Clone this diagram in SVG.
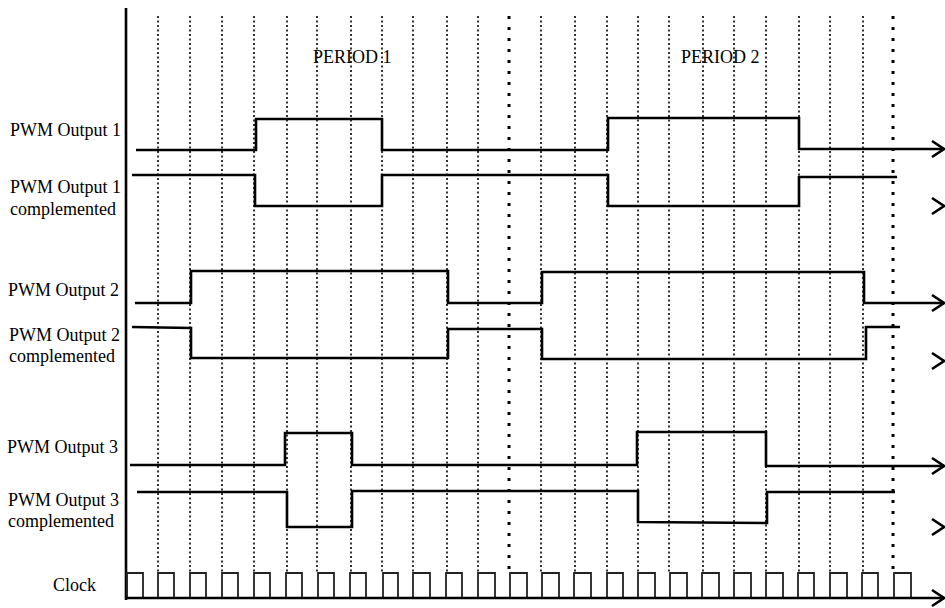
<svg xmlns="http://www.w3.org/2000/svg" width="945" height="608" viewBox="0 0 945 608">
<style>
text{font-family:"Liberation Serif","Times New Roman",serif;font-size:18px;fill:#000}
.grid{stroke:#000;stroke-width:1.6;stroke-dasharray:2 2.5;fill:none}
.gridb{stroke:#000;stroke-width:3;stroke-dasharray:3 8;fill:none}
.sig{stroke:#000;stroke-width:2.6;fill:none;stroke-linejoin:miter}
.chev{stroke:#000;stroke-width:2.6;fill:none}
.clk{stroke:#222;stroke-width:1.8;fill:none}
</style>
<rect width="945" height="608" fill="#fff"/>
<g id="grid">
<path class="grid" d="M158,16V572M190,16V572M222,16V572M254,16V572M287,16V572M317,16V572M351,16V572M382,16V572M413,16V572M447,16V572M478,16V572M541,16V572M575,16V572M607,16V572M638,16V572M669,16V572M703,16V572M734,16V572M766,16V572M799,16V572M830,16V572M863,16V572"/>
<path class="gridb" d="M509,16V572M893,16V572"/>
</g>
<g id="axis">
<path d="M126,8V600" stroke="#000" stroke-width="2.6" fill="none"/>
</g>
<g id="period-labels">
<text x="313" y="63">PERIOD 1</text>
<text x="681" y="63">PERIOD 2</text>
</g>
<g id="pwm1">
<text x="10" y="136">PWM Output 1</text>
<path class="sig" d="M136,150H256V119H382V150H608V118H799V149H944"/>
<polyline class="chev" points="932,141 944,149 932,157"/>
</g>
<g id="pwm1c">
<text x="10" y="193">PWM Output 1</text>
<text x="10" y="215">complemented</text>
<path class="sig" d="M132,175H255V206H382V175H608V206H799V177H897"/>
<polyline class="chev" points="932,198 944,206 932,214"/>
</g>
<g id="pwm2">
<text x="8" y="296">PWM Output 2</text>
<path class="sig" d="M135,303H191V271H448V303H542V272H864V303H944"/>
<polyline class="chev" points="932,295 944,303 932,311"/>
</g>
<g id="pwm2c">
<text x="9" y="341">PWM Output 2</text>
<text x="9" y="362">complemented</text>
<path class="sig" d="M132,327L191,328V358H448V329H542V359H866V327H900"/>
<polyline class="chev" points="932,353 944,361 932,369"/>
</g>
<g id="pwm3">
<text x="7" y="453">PWM Output 3</text>
<path class="sig" d="M130,465H285V433H352V465H637V432H766V466H944"/>
<polyline class="chev" points="932,458 944,466 932,474"/>
</g>
<g id="pwm3c">
<text x="8" y="506">PWM Output 3</text>
<text x="8" y="527">complemented</text>
<path class="sig" d="M137,492H287V527H352V491H638V522L767,523V492H895"/>
<polyline class="chev" points="932,519 944,527 932,535"/>
</g>
<g id="clock">
<text x="53" y="591">Clock</text>
<path class="clk" d="M127,598V573H143V598M158,598V573H174V598M190,598V573H206V598M222,598V573H238V598M254,598V573H270V598M286,598V573H302V598M318,598V573H334V598M350,598V573H366V598M383,598V573H398V598M413,598V573H430V598M446,598V573H462V598M478,598V573H495V598M510,598V573H527V598M542,598V573H559V598M574,598V573H591V598M607,598V573H623V598M638,598V573H655V598M670,598V573H687V598M702,598V573H719V598M734,598V573H751V598M766,598V573H783V598M798,598V573H814V598M830,598V573H847V598M862,598V573H878V598M894,598V573H911V598"/>
<path class="sig" d="M126,598H944"/>
<polyline class="chev" points="932,590 944,598 932,606"/>
</g>
</svg>
